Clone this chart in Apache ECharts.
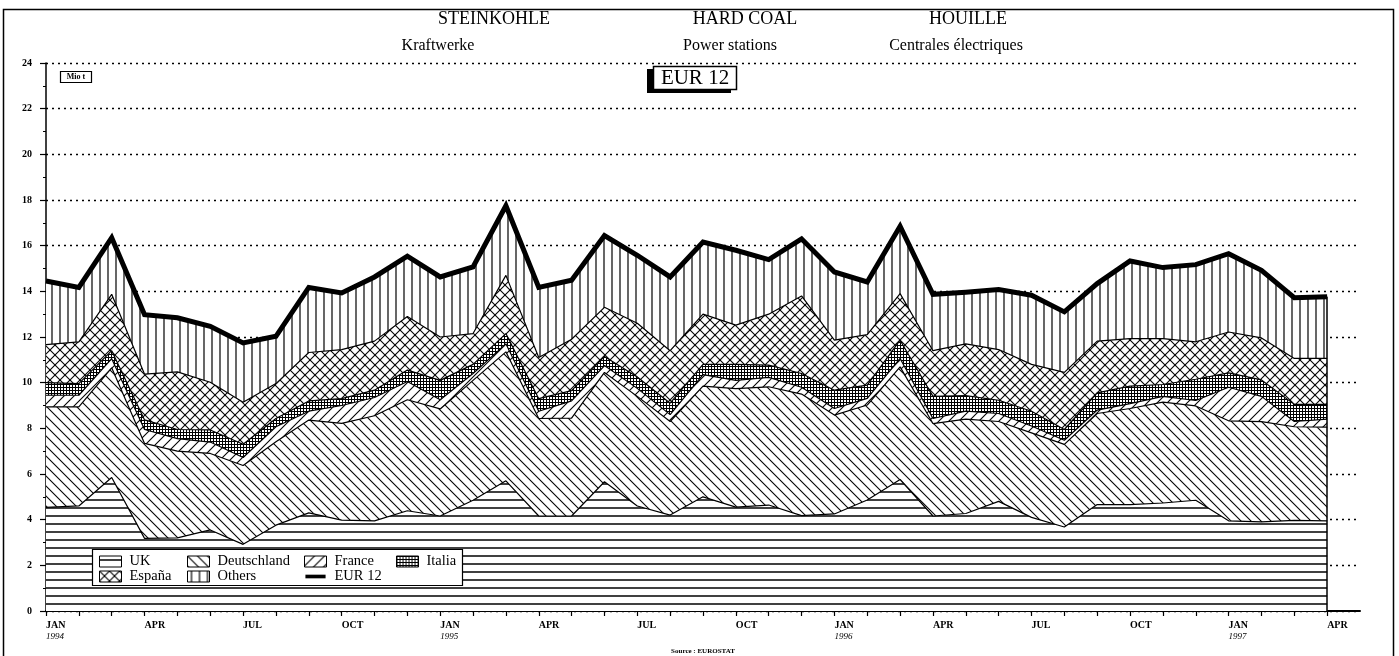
<!DOCTYPE html>
<html>
<head>
<meta charset="utf-8">
<script src="https://cdn.jsdelivr.net/npm/echarts@6/dist/echarts.min.js"></script>
<style>
html,body{margin:0;padding:0;background:#fff;}
#chart{width:1399px;height:656px;}
</style>
</head>
<body>
<div id="chart"></div>
<script>
// ---- data (Mio t) ----
const categories = ['JAN\n1994','','','APR','','','JUL','','','OCT','','',
  'JAN\n1995','','','APR','','','JUL','','','OCT','','',
  'JAN\n1996','','','APR','','','JUL','','','OCT','','',
  'JAN\n1997','','','APR',''];
const yTicks = [0,2,4,6,8,10,12,14,16,18,20,22,24];
const uk          = [4.54,4.60,5.85,3.18,3.20,3.55,2.92,3.76,4.30,3.98,3.95,4.39,4.16,4.85,5.70,4.16,4.16,5.66,4.60,4.20,5.00,4.55,4.64,4.18,4.25,4.86,5.76,4.16,4.27,4.80,4.10,3.68,4.66,4.66,4.73,4.85,3.95,3.90,3.97,3.95];
const deutschland = [4.40,4.34,4.80,4.16,3.80,3.35,3.45,3.65,4.06,4.24,4.60,4.86,4.69,5.25,5.65,4.27,4.29,4.79,4.80,4.10,4.85,5.19,5.18,5.32,4.33,4.16,4.93,4.05,4.13,3.50,3.70,3.62,3.99,4.21,4.42,4.13,4.38,4.39,4.10,4.10];
const france      = [0.51,0.51,0.40,0.61,0.55,0.50,0.35,0.66,0.39,0.78,0.80,0.80,0.40,0.30,0.35,0.32,0.75,0.30,0.35,0.30,0.50,0.36,0.41,0.30,0.29,0.29,0.37,0.22,0.35,0.35,0.30,0.18,0.15,0.21,0.25,0.24,1.47,1.11,0.23,0.35];
const italia      = [0.55,0.51,0.35,0.42,0.40,0.53,0.58,0.36,0.45,0.30,0.32,0.50,0.85,0.40,0.45,0.55,0.45,0.40,0.50,0.50,0.45,0.70,0.54,0.60,0.80,0.58,0.80,0.97,0.68,0.58,0.65,0.47,0.75,0.77,0.52,0.93,0.63,0.72,0.75,0.65];
const espana      = [1.67,1.83,2.47,2.00,2.52,2.09,1.84,1.53,2.12,2.15,2.15,2.35,1.90,1.35,2.55,1.80,2.25,2.15,2.35,2.30,2.20,1.72,2.23,3.40,2.19,2.21,2.04,2.00,2.27,2.22,2.05,2.50,2.27,2.08,2.01,1.64,1.79,1.84,2.01,2.01];
const others      = [2.78,2.38,2.48,2.61,2.37,2.45,2.60,2.07,2.85,2.48,2.81,2.64,2.63,2.92,3.05,3.07,2.59,3.14,2.98,3.23,3.16,3.28,2.39,2.50,2.99,2.31,2.95,2.47,2.26,2.63,3.03,2.65,2.52,3.40,3.11,3.38,3.43,2.96,2.66,2.70];
const eur12       = [14.45,14.17,16.35,12.98,12.84,12.47,11.74,12.03,14.17,13.93,14.63,15.54,14.63,15.07,17.75,14.17,14.49,16.44,15.58,14.63,16.16,15.80,15.39,16.30,14.85,14.41,16.85,13.87,13.96,14.08,13.83,13.10,14.34,15.33,15.04,15.17,15.65,14.92,13.72,13.76];
const seriesNames = ['UK','Deutschland','France','Italia','España','Others','EUR 12'];

// ---- fill patterns ----
function makePattern(size, draw){
  const c = document.createElement('canvas');
  c.width = size; c.height = size;
  const ctx = c.getContext('2d');
  ctx.fillStyle = '#fff'; ctx.fillRect(0,0,size,size);
  ctx.strokeStyle = '#000';
  draw(ctx, size);
  return {image: c, repeat: 'repeat'};
}
function seg(ctx,x1,y1,x2,y2){ctx.beginPath();ctx.moveTo(x1,y1);ctx.lineTo(x2,y2);ctx.stroke();}
const pat = {
  uk: makePattern(8,(c,s)=>{c.lineWidth=1.5;seg(c,0,4,s,4);}),
  de: makePattern(10,(c,s)=>{c.lineWidth=1.1;seg(c,-2,-2,s+2,s+2);seg(c,-2,s-2,2,s+2);seg(c,s-2,-2,s+2,2);}),
  fr: makePattern(10,(c,s)=>{c.lineWidth=1.1;seg(c,-2,s+2,s+2,-2);seg(c,-2,2,2,-2);seg(c,s-2,s+2,s+2,s-2);}),
  it: makePattern(3,(c,s)=>{c.lineWidth=1;seg(c,0.5,0,0.5,s);seg(c,0,0.5,s,0.5);}),
  es: makePattern(10,(c,s)=>{c.lineWidth=1.1;
        seg(c,-2,-2,s+2,s+2);seg(c,-2,s-2,2,s+2);seg(c,s-2,-2,s+2,2);
        seg(c,-2,s+2,s+2,-2);seg(c,-2,2,2,-2);seg(c,s-2,s+2,s+2,s-2);}),
  ot: makePattern(8,(c,s)=>{c.lineWidth=1.2;seg(c,4,0,4,s);})
};

const SERIF = '"Liberation Serif", "DejaVu Serif", serif';
const chart = echarts.init(document.getElementById('chart'));

function areaSeries(name, data, p){
  return {
    name, type:'line', stack:'total', data, symbol:'none', showSymbol:false,
    lineStyle:{color:'#000', width:1.2},
    itemStyle:{color:p},
    areaStyle:{color:p, opacity:1},
    emphasis:{disabled:true}, animation:false, z:2
  };
}
const legendItem = (name, p) => ({name, icon:'rect', itemStyle:{color:p, borderColor:'#000', borderWidth:1}});
const legendBase = {
  orient:'vertical', selectedMode:false, padding:0, itemGap:0,
  itemWidth:22, itemHeight:11, z:20,
  textStyle:{fontFamily:SERIF, fontSize:14.5, color:'#000', lineHeight:14, padding:[0,0,0,3]}
};

const option = {
  backgroundColor:'#fff',
  animation:false,
  grid:{left:46, top:63, width:1314, height:548, containLabel:false},
  xAxis:{
    type:'category', data:categories, boundaryGap:false,
    axisLine:{lineStyle:{color:'#000', width:2}},
    axisTick:{show:true, length:5, lineStyle:{color:'#000', width:1.2}, interval:(i)=>i<40},
    axisLabel:{
      interval:0, align:'left', margin:9, color:'#000',
      formatter:(v)=>{ if(!v) return ''; const p=v.split('\n'); return p.length>1 ? '{m|'+p[0]+'}\n{y|'+p[1]+'}' : '{m|'+p[0]+'}'; },
      rich:{
        m:{fontFamily:SERIF, fontSize:10, fontWeight:'bold', lineHeight:11, color:'#000'},
        y:{fontFamily:SERIF, fontSize:9, fontStyle:'italic', lineHeight:11, color:'#000'}
      }
    },
    splitLine:{show:false}
  },
  yAxis:{
    type:'value', min:yTicks[0], max:yTicks[yTicks.length-1], interval:2,
    axisLine:{show:true, lineStyle:{color:'#000', width:1.5}},
    axisTick:{show:true, length:6, lineStyle:{color:'#000', width:1.2}},
    minorTick:{show:true, splitNumber:2, length:3, lineStyle:{color:'#000', width:1}},
    axisLabel:{fontFamily:SERIF, fontSize:10, fontWeight:'bold', color:'#000', margin:14},
    splitLine:{show:true, lineStyle:{color:'#000', width:1.4, type:[2,4]}}
  },
  legend:[
    Object.assign({}, legendBase, {left:99, top:554, data:[legendItem('UK',pat.uk), legendItem('España',pat.es)]}),
    Object.assign({}, legendBase, {left:187, top:554, data:[legendItem('Deutschland',pat.de), legendItem('Others',pat.ot)]}),
    Object.assign({}, legendBase, {left:304, top:554, data:[legendItem('France',pat.fr),
      {name:'EUR 12', icon:'path://M0,0 M0,4 L22,4 L22,8 L0,8 Z M22,12', itemStyle:{color:'#000', borderWidth:0}}]}),
    Object.assign({}, legendBase, {left:396, top:554, data:[legendItem('Italia',pat.it)]})
  ],
  series:[
    areaSeries(seriesNames[0], uk, pat.uk),
    areaSeries(seriesNames[1], deutschland, pat.de),
    areaSeries(seriesNames[2], france, pat.fr),
    areaSeries(seriesNames[3], italia, pat.it),
    areaSeries(seriesNames[4], espana, pat.es),
    areaSeries(seriesNames[5], others, pat.ot),
    {
      name:seriesNames[6], type:'line', data:eur12, symbol:'none', showSymbol:false,
      lineStyle:{color:'#000', width:5, join:'miter'}, itemStyle:{color:'#000'},
      emphasis:{disabled:true}, z:5,
      markLine:{symbol:'none', silent:true, label:{show:false},
        lineStyle:{color:'#000', width:1.5, type:'solid'},
        data:[[{coord:[39,0]},{coord:[39,eur12[39]]}]]}
    }
  ],
  graphic:[
    {type:'rect', shape:{x:3.5, y:9.5, width:1390, height:700}, style:{fill:null, stroke:'#000', lineWidth:1.5}, z:1, silent:true},
    {type:'text', x:494, y:19, style:{text:'STEINKOHLE', font:'18px '+SERIF, fill:'#000', textAlign:'center', textVerticalAlign:'middle'}},
    {type:'text', x:745, y:19, style:{text:'HARD COAL', font:'18px '+SERIF, fill:'#000', textAlign:'center', textVerticalAlign:'middle'}},
    {type:'text', x:968, y:19, style:{text:'HOUILLE', font:'18px '+SERIF, fill:'#000', textAlign:'center', textVerticalAlign:'middle'}},
    {type:'text', x:438, y:46, style:{text:'Kraftwerke', font:'16px '+SERIF, fill:'#000', textAlign:'center', textVerticalAlign:'middle'}},
    {type:'text', x:730, y:46, style:{text:'Power stations', font:'16px '+SERIF, fill:'#000', textAlign:'center', textVerticalAlign:'middle'}},
    {type:'text', x:956, y:46, style:{text:'Centrales électriques', font:'16px '+SERIF, fill:'#000', textAlign:'center', textVerticalAlign:'middle'}},
    {type:'rect', shape:{x:60.5, y:71.5, width:31, height:11}, style:{fill:'#fff', stroke:'#000', lineWidth:1.2}, z:10},
    {type:'text', x:76, y:77, style:{text:'Mio t', font:'bold 8px '+SERIF, fill:'#000', textAlign:'center', textVerticalAlign:'middle'}, z:11},
    {type:'rect', shape:{x:647, y:69, width:84, height:24}, style:{fill:'#000'}, z:10},
    {type:'rect', shape:{x:653.5, y:66.5, width:83, height:23}, style:{fill:'#fff', stroke:'#000', lineWidth:1.5}, z:11},
    {type:'text', x:695, y:78.5, style:{text:'EUR 12', font:'21px '+SERIF, fill:'#000', textAlign:'center', textVerticalAlign:'middle'}, z:12},
    {type:'rect', shape:{x:92.5, y:549.5, width:370, height:36}, style:{fill:'#fff', stroke:'#000', lineWidth:1.2}, z:15},
    {type:'text', x:703, y:651, style:{text:'Source : EUROSTAT', font:'bold 7px '+SERIF, fill:'#000', textAlign:'center', textVerticalAlign:'middle'}}
  ]
};
chart.setOption(option);
</script>
</body>
</html>
